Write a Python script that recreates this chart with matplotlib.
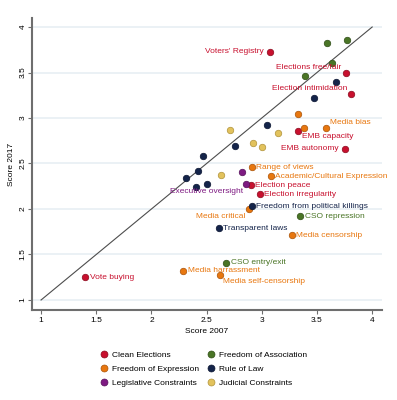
import numpy as np
import matplotlib.pyplot as plt
from matplotlib.lines import Line2D

plt.rcParams['font.family'] = ['Liberation Sans', 'DejaVu Sans']

# ---- data: indicator scores 2007 vs 2017 ----
grupos = ['Clean Elections', 'Freedom of Association', 'Freedom of Expression',
          'Rule of Law', 'Legislative Constraints', 'Judicial Constraints']

nombres = [
    "Voters' Registry", 'Elections free/fair', 'Election intimidation', 'EMB capacity',
    'EMB autonomy', 'Election peace', 'Election irregularity', 'Vote buying',
    '', '', '', '', 'CSO repression', 'CSO entry/exit',
    '', '', 'Media bias', 'Range of views', 'Academic/Cultural Expression',
    'Media critical', 'Media censorship', 'Media harrassment', 'Media self-censorship',
    '', '', '', '', '', '', '', '', '', 'Freedom from political killings', 'Transparent laws',
    '', 'Executive oversight',
    '', '', '', '', '',
]
score2007 = [
    3.07, 3.76, 3.81, 3.33, 3.75, 2.90, 2.98, 1.40,
    3.59, 3.77, 3.64, 3.39, 3.35, 2.68,
    3.33, 3.38, 3.58, 2.91, 3.08, 2.88, 3.27, 2.29, 2.62,
    3.67, 3.47, 3.05, 2.76, 2.47, 2.42, 2.31, 2.40, 2.50, 2.91, 2.61,
    2.82, 2.86,
    2.71, 3.15, 2.92, 3.00, 2.63,
]
score2017 = [
    3.73, 3.49, 3.26, 2.86, 2.66, 2.26, 2.16, 1.25,
    3.82, 3.86, 3.60, 3.46, 1.92, 1.41,
    3.04, 2.89, 2.89, 2.46, 2.36, 2.00, 1.71, 1.32, 1.27,
    3.40, 3.22, 2.92, 2.69, 2.58, 2.42, 2.34, 2.24, 2.27, 2.03, 1.79,
    2.41, 2.27,
    2.87, 2.84, 2.73, 2.68, 2.37,
]
grupo = [0] * 8 + [1] * 6 + [2] * 9 + [3] * 11 + [4] * 2 + [5] * 5

# ---- style ----
colores = ['#c8102e', '#4a7526', '#e8770f', '#14244a', '#7e1a82', '#e2c25c']
bordes = ['#8a0a1e', '#2f4d16', '#a85208', '#0a1430', '#55105a', '#b0923a']

# posicion de etiqueta tipo reloj (Stata) -> desplazamiento en pixeles
posicion = {
    "Voters' Registry": 9, 'Elections free/fair': 10, 'Election intimidation': 10,
    'EMB capacity': 4, 'EMB autonomy': 9, 'Media bias': 2, 'Media critical': 8,
    'Media self-censorship': 4, 'Executive oversight': 8,
}
desplaz = {3: (4.5, 0, 'left'), 9: (-5.5, 0, 'right'), 10: (-4, 5.5, 'right'),
           2: (4, 5.5, 'left'), 4: (3.5, -6, 'left'), 8: (-3.5, -7.5, 'right')}

fig = plt.figure(figsize=(3.97, 4.0), dpi=100)
ax = fig.add_axes([32 / 397, 1 - 310 / 400, 350 / 397, 292 / 400])

ax.plot([1, 4], [1, 4], color='#4d4d4d', lw=0.8, zorder=2)

x = np.array(score2007)
y = np.array(score2017)
g = np.array(grupo)
for k in range(len(grupos)):
    m = g == k
    ax.scatter(x[m], y[m], s=22, color=colores[k], edgecolor=bordes[k],
               linewidth=0.5, zorder=3)

for nom, xi, yi, gi in zip(nombres, score2007, score2017, grupo):
    if nom == '':
        continue
    dx, dy, ha = desplaz[posicion.get(nom, 3)]
    ax.annotate(nom, (xi, yi), xytext=(dx, dy), textcoords='offset pixels',
                ha=ha, va='center', fontsize=6, color=colores[gi])

ax.set_xlim(0.918, 4.089)
ax.set_ylim(0.89, 4.099)
ax.set_xticks([1, 1.5, 2, 2.5, 3, 3.5, 4])
ax.set_xticklabels(['1', '1.5', '2', '2.5', '3', '3.5', '4'])
ax.set_yticks([1, 1.5, 2, 2.5, 3, 3.5, 4])
ax.set_yticklabels(['1', '1.5', '2', '2.5', '3', '3.5', '4'], rotation=90, va='center')
ax.tick_params(labelsize=6, length=3, width=0.8, color='#6e6e6e', pad=2)
ax.tick_params(axis='y', pad=1)
ax.grid(axis='y', color='#e5eef2', lw=1.1)
ax.set_axisbelow(True)
for s in ['top', 'right']:
    ax.spines[s].set_visible(False)
for s in ['left', 'bottom']:
    ax.spines[s].set_color('#6e6e6e')
    ax.spines[s].set_linewidth(1.5)
ax.set_xlabel('Score 2007', fontsize=6, labelpad=3)
ax.set_ylabel('Score 2017', fontsize=6, labelpad=3)

# leyenda: matplotlib llena por columnas, el original va por filas
orden = [0, 2, 4, 1, 3, 5]
handles = [Line2D([], [], ls='', marker='o', ms=5, color=colores[k],
                  markeredgecolor=bordes[k], markeredgewidth=0.5) for k in orden]
fig.legend(handles, [grupos[k] for k in orden], ncol=2, frameon=False,
           loc='upper left', bbox_to_anchor=(99.5 / 397, 1 - 351 / 400),
           fontsize=6, handlelength=1, handletextpad=0.45, columnspacing=1.0,
           labelspacing=0.75, borderpad=0, borderaxespad=0)

fig.savefig('out.png', dpi=100)
